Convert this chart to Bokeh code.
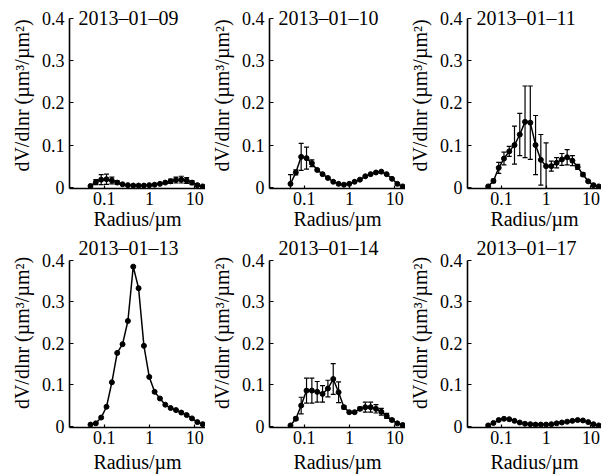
from bokeh.plotting import figure
from bokeh.layouts import gridplot
from bokeh.models import (ColumnDataSource, Whisker, TeeHead, FixedTicker, Label,
                          Range1d, CustomJSTickFormatter)
from bokeh.embed import file_html
from bokeh.resources import INLINE

# AERONET size-distribution radii (um)
radius = [0.05, 0.065604, 0.086077, 0.112939, 0.148184, 0.194429, 0.255105,
          0.334716, 0.439173, 0.576227, 0.756052, 0.991996, 1.301571, 1.707757,
          2.240702, 2.939966, 3.857452, 5.061260, 6.640745, 8.713145, 11.432287, 15.0]

dates = ["2013–01–09", "2013–01–10", "2013–01–11",
         "2013–01–13", "2013–01–14", "2013–01–17"]

v_0109 = [0.003, 0.012, 0.018, 0.019, 0.016, 0.011, 0.007, 0.005, 0.004, 0.004, 0.004,
          0.005, 0.006, 0.008, 0.011, 0.014, 0.017, 0.018, 0.016, 0.011, 0.005, 0.002]
e_0109 = [0, 0.006, 0.012, 0.012, 0.008, 0.004, 0, 0, 0, 0, 0,
          0, 0, 0, 0, 0.005, 0.007, 0.008, 0.007, 0.005, 0.003, 0]

v_0110 = [0.008, 0.035, 0.072, 0.069, 0.057, 0.041, 0.031, 0.022, 0.013, 0.008, 0.006,
          0.008, 0.013, 0.018, 0.026, 0.031, 0.035, 0.037, 0.031, 0.020, 0.008, 0.002]
e_0110 = [0.022, 0.006, 0.032, 0.026, 0.008, 0, 0, 0, 0, 0, 0,
          0, 0, 0, 0, 0, 0, 0, 0, 0, 0, 0]

v_0111 = [0.002, 0.015, 0.046, 0.068, 0.085, 0.100, 0.125, 0.155, 0.153, 0.100, 0.065,
          0.050, 0.050, 0.058, 0.066, 0.071, 0.063, 0.048, 0.030, 0.014, 0.005, 0.002]
e_0111 = [0, 0.004, 0.013, 0.015, 0.012, 0.045, 0.050, 0.085, 0.087, 0.070, 0.060,
          0.055, 0.012, 0.012, 0.014, 0.018, 0.012, 0.006, 0.004, 0.002, 0.001, 0]

v_0113 = [0.004, 0.007, 0.021, 0.047, 0.106, 0.177, 0.198, 0.254, 0.385, 0.333, 0.194,
          0.119, 0.083, 0.067, 0.052, 0.044, 0.039, 0.033, 0.027, 0.019, 0.010, 0.005]
e_0113 = [0] * 22

v_0114 = [0.002, 0.018, 0.050, 0.086, 0.086, 0.083, 0.078, 0.091, 0.114, 0.082, 0.046,
          0.034, 0.034, 0.042, 0.046, 0.046, 0.042, 0.035, 0.025, 0.015, 0.007, 0.003]
e_0114 = [0, 0.004, 0.020, 0.030, 0.030, 0.025, 0.020, 0.020, 0.037, 0.025, 0.004,
          0, 0, 0.004, 0.012, 0.012, 0.010, 0.008, 0.006, 0.003, 0, 0]

v_0117 = [0.002, 0.008, 0.015, 0.018, 0.017, 0.013, 0.009, 0.006, 0.005, 0.004, 0.004,
          0.004, 0.005, 0.007, 0.009, 0.011, 0.013, 0.015, 0.014, 0.010, 0.005, 0.002]
e_0117 = [0] * 22

values = [v_0109, v_0110, v_0111, v_0113, v_0114, v_0117]
errors = [e_0109, e_0110, e_0111, e_0113, e_0114, e_0117]

x_ticks = [0.1, 1, 10]
y_ticks = [0, 0.1, 0.2, 0.3, 0.4]

FONT = "'Liberation Serif', 'Times New Roman', serif"
X_LO, X_HI = 0.0172, 17.3
Y_LO = -0.003

widths = [205, 200, 196]
lefts = [69, 64, 61]
heights = [234, 242]
tops = [2, 4]
bottoms = [46, 49]
y_hi = [0.4379, 0.4529]
title_y = [0.4, 0.4289]
xlabel_standoff = [0, 4]

figs = []
for i in range(6):
    row, col = divmod(i, 3)
    p = figure(width=widths[col], height=heights[row], x_axis_type="log",
               x_range=Range1d(X_LO, X_HI), y_range=Range1d(Y_LO, y_hi[row]),
               output_backend="svg", toolbar_location=None,
               min_border_left=lefts[col], min_border_right=0,
               min_border_top=tops[row], min_border_bottom=bottoms[row])
    p.outline_line_color = None
    p.xgrid.visible = False
    p.ygrid.visible = False
    p.background_fill_color = "white"
    p.border_fill_color = "white"

    p.xaxis.ticker = FixedTicker(ticks=x_ticks, minor_ticks=[])
    p.xaxis.formatter = CustomJSTickFormatter(code="return tick.toString();")
    p.yaxis.ticker = FixedTicker(ticks=y_ticks, minor_ticks=[])
    p.yaxis.formatter = CustomJSTickFormatter(code="return tick.toString();")
    p.yaxis.bounds = (Y_LO, 0.4)

    for ax in (p.xaxis, p.yaxis):
        ax.axis_line_color = "black"
        ax.axis_line_width = 1.6
        ax.major_tick_line_color = "black"
        ax.major_tick_line_width = 1.2
        ax.major_tick_out = 0
        ax.minor_tick_line_color = None
        ax.major_label_text_font = FONT
        ax.major_label_text_font_size = "18px"
        ax.major_label_text_color = "black"
        ax.axis_label_text_font = FONT
        ax.axis_label_text_font_size = "20px"
        ax.axis_label_text_font_style = "normal"
        ax.axis_label_text_color = "black"
    p.xaxis.major_tick_in = 3
    p.yaxis.major_tick_in = 4
    p.xaxis.major_label_standoff = 3
    p.yaxis.major_label_standoff = 5
    p.xaxis.axis_label = "Radius/µm"
    p.yaxis.axis_label = "dV/dlnr (µm³/µm²)"
    p.xaxis.axis_label_standoff = xlabel_standoff[row]
    p.yaxis.axis_label_standoff = 6

    v = values[i]
    e = errors[i]
    src = ColumnDataSource(dict(x=radius, y=v))
    p.line("x", "y", source=src, line_color="black", line_width=1.5)
    p.scatter("x", "y", source=src, size=5, color="black")

    ex = [r for r, ee in zip(radius, e) if ee > 0]
    ey_up = [vv + ee for vv, ee in zip(v, e) if ee > 0]
    ey_lo = [vv - ee for vv, ee in zip(v, e) if ee > 0]
    if ex:
        esrc = ColumnDataSource(dict(x=ex, upper=ey_up, lower=ey_lo))
        w = Whisker(source=esrc, base="x", upper="upper", lower="lower",
                    line_color="black", line_width=1.2,
                    upper_head=TeeHead(size=5, line_color="black", line_width=1.2),
                    lower_head=TeeHead(size=5, line_color="black", line_width=1.2))
        p.add_layout(w)

    lab = Label(x=X_LO, y=title_y[row], x_offset=9, text=dates[i],
                text_font=FONT, text_font_size="20px", text_baseline="middle",
                text_align="left", text_color="black")
    p.add_layout(lab)
    figs.append(p)

grid = gridplot([figs[0:3], figs[3:6]], toolbar_location=None)

open("out.html", "w").write(file_html(grid, INLINE))
